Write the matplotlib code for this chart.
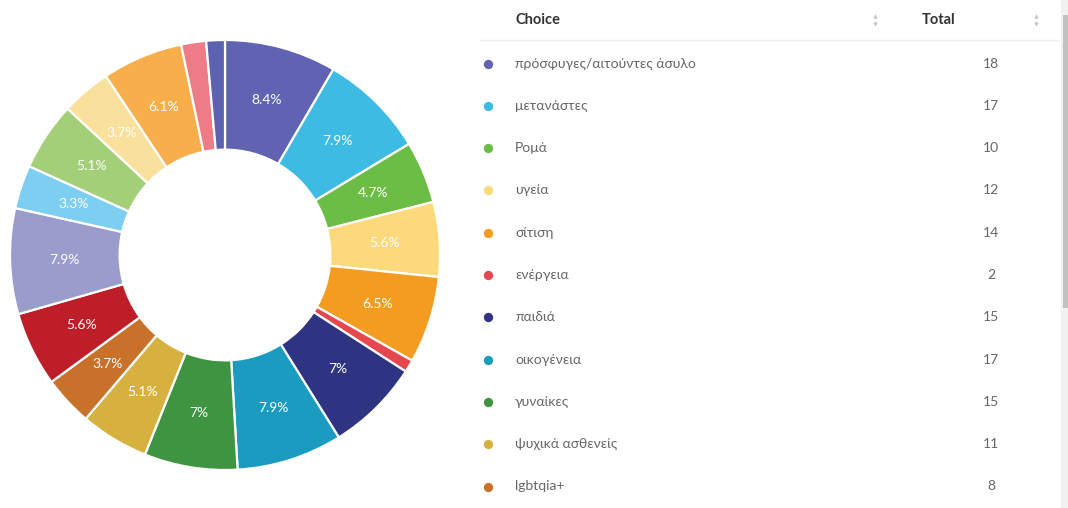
import matplotlib
matplotlib.use('Agg')
import matplotlib.pyplot as plt
from matplotlib.patches import Rectangle
import numpy as np

plt.rcParams['font.family'] = ['Lato', 'DejaVu Sans']

# slices, clockwise from 12 o'clock
choices = ['πρόσφυγες/αιτούντες άσυλο', 'μετανάστες', 'Ρομά', 'υγεία', 'σίτιση',
           'ενέργεια', 'παιδιά', 'οικογένεια', 'γυναίκες', 'ψυχικά ασθενείς',
           'lgbtqia+', 'choice 12', 'choice 13', 'choice 14', 'choice 15',
           'choice 16', 'choice 17', 'choice 18', 'choice 19']
totals = [18, 17, 10, 12, 14, 2, 15, 17, 15, 11, 8, 12, 17, 7, 11, 8, 13, 4, 3]
colors = ['#5f63b1', '#3dbbe3', '#6cbd45', '#fcd97a', '#f39c1f', '#e5474f',
          '#2e3481', '#1b9bc0', '#3f9441', '#d6b13f', '#c8712a', '#bd1e27',
          '#9a9ccb', '#7ccff0', '#a2cf77', '#f9e19d', '#f8ae4a', '#ee7c86',
          '#5d62b0']
visible_rows = 11

W, H = 1068, 508
fig = plt.figure(figsize=(W / 100, H / 100), dpi=100)
fig.patch.set_facecolor('white')

# donut
cx, cy, r = 225, 255, 215
ax = fig.add_axes([(cx - r) / W, (H - cy - r) / H, 2 * r / W, 2 * r / H])
wedges, _ = ax.pie(totals, colors=colors, startangle=90, counterclock=False,
                   radius=1, wedgeprops=dict(width=0.51, edgecolor='white', linewidth=1.6))
ax.set_xlim(-1, 1)
ax.set_ylim(-1, 1)
ax.set_aspect('equal')
ax.axis('off')

s = sum(totals)
for w, v in zip(wedges, totals):
    p = v / s * 100
    if p < 2:
        continue
    ang = np.deg2rad((w.theta1 + w.theta2) / 2)
    lab = ('%.1f' % p).rstrip('0').rstrip('.') + '%'
    ax.text(0.745 * np.cos(ang), 0.745 * np.sin(ang), lab, color='white',
            fontsize=10, ha='center', va='center')

# table (pixel coordinates)
tb = fig.add_axes([0, 0, 1, 1])
tb.set_xlim(0, W)
tb.set_ylim(H, 0)
tb.axis('off')

tb.text(515, 20, 'Choice', fontsize=10.5, fontweight='bold', color='#333333', va='center')
tb.text(922, 20, 'Total', fontsize=10.5, fontweight='bold', color='#333333', va='center')
for sx in (875, 1036):
    tb.scatter([sx], [16], marker='^', s=10, color='#c4c4c4', linewidths=0)
    tb.scatter([sx], [24], marker='v', s=10, color='#c4c4c4', linewidths=0)
tb.plot([480, 1058], [40, 40], color='#eeeeee', lw=1)

row_y = 63.5
step = 42.3
for i in range(visible_rows):
    y = row_y + i * step
    tb.scatter([488], [y], s=45, color=colors[i], linewidths=0)
    tb.text(515, y, choices[i], fontsize=10, color='#666666', va='center')
    tb.text(991, y, str(totals[i]), fontsize=10, color='#666666', va='center', ha='center')

# scrollbar
tb.add_patch(Rectangle((1061, 0), 7, H, color='#f1f1f1', lw=0))
tb.add_patch(Rectangle((1062.5, 15), 5, 293, color='#c1c1c1', lw=0))

fig.savefig('out.png', dpi=100, facecolor='white')
